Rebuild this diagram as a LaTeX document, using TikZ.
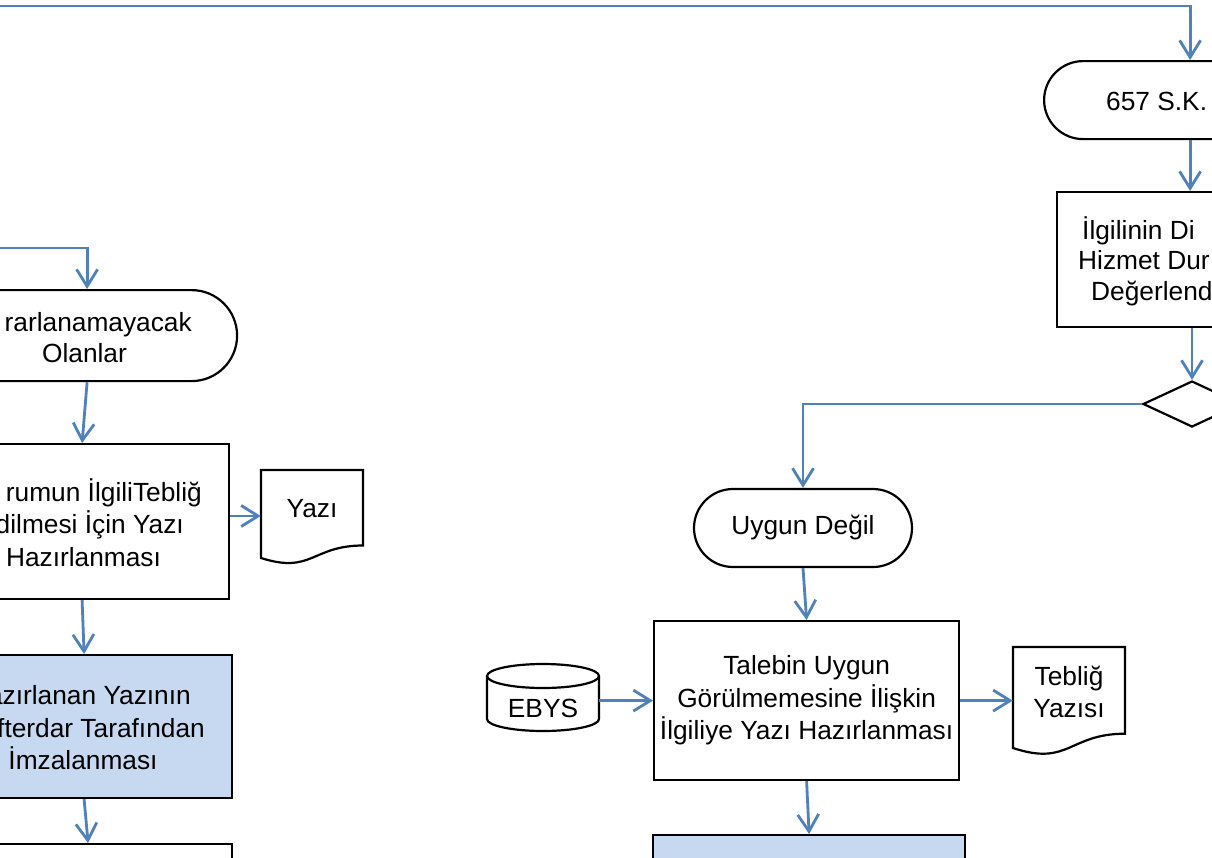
\documentclass[tikz,border=0pt]{standalone}
\usepackage{fontspec}
\setmainfont{Liberation Sans}
\usetikzlibrary{arrows.meta,shapes.geometric}
\definecolor{flowblue}{RGB}{79,129,189}
\definecolor{fillblue}{RGB}{198,217,240}
\tikzset{
  conn/.style={draw=flowblue,line width=2.8pt,-{Straight Barb[length=17pt,width=21pt]}},
  shp/.style={draw=black,line width=2.2pt},
  procbox/.style={shp,rectangle,inner sep=0pt,anchor=north west},
  term/.style={shp,rectangle,inner sep=0pt},
  txt/.style={font=\fontsize{26.3}{32.5}\selectfont,inner sep=0pt},
}
\begin{document}
\begin{tikzpicture}[x=1pt,y=-1pt]
\useasboundingbox (0,0) rectangle (1212,857);
\fill[white] (0,0) rectangle (1212,857);
\clip (0,0) rectangle (1212,857);

% ---------- right column ----------
\node[term,rounded corners=39pt,minimum width=292pt,minimum height=78pt,anchor=north west] (t657) at (1043,60) {};
\node[txt,anchor=base west] (t657txt) at (1106,110) {657 S.K.};

\node[procbox,minimum width=266pt,minimum height=135pt] (degerl) at (1056,191) {};
\node[txt,anchor=base west] (dg1) at (1082,239) {İlgilinin Di};
\node[txt,anchor=base west] (dg2) at (1078,269) {Hizmet Dur};
\node[txt,anchor=base west] (dg3) at (1091,300) {Değerlend};

\node[shp,diamond,inner sep=0pt,minimum width=98pt,minimum height=46pt] (karar) at (1192,404) {};

\node[term,rounded corners=39pt,minimum width=218pt,minimum height=78pt,txt] (uygun) at (803,528) {Uygun Değil};

\node[procbox,minimum width=305pt,minimum height=159pt,align=center,font=\fontsize{26.3}{32.5}\selectfont] (talebin) at (653,620) {Talebin Uygun\\Görülmemesine İlişkin\\İlgiliye Yazı Hazırlanması};

\node[procbox,fill=fillblue,minimum width=312pt,minimum height=100pt] (onay) at (652,834) {};

% EBYS cylinder
\draw[shp,fill=white] (487,676) -- (487,719) arc[start angle=180,end angle=0,x radius=56,y radius=12] -- (599,676);
\draw[shp] (543,676) ellipse [x radius=56,y radius=12];
\node[txt,minimum width=112pt] (ebys) at (543,708) {EBYS};

% Tebliğ Yazısı document
\draw[shp] (1013,647) -- (1125,647) -- (1125,733.7) .. controls (1069,733.7) and (1069,766.6) .. (1013,748) -- cycle;
\node[txt,align=center,minimum width=112pt,font=\fontsize{26.3}{32.5}\selectfont] (teblig) at (1069,692) {Tebliğ\\Yazısı};

% ---------- left column ----------
\node[term,rounded corners=45.5pt,minimum width=300pt,minimum height=91pt,anchor=north west] (yterm) at (-64,289) {};
\node[txt,anchor=base east] (yt1) at (192,331) {rarlanamayacak};
\node[txt,anchor=base] (yt2) at (84.5,362) {Olanlar};

\node[procbox,minimum width=294pt,minimum height=155pt] (lbox) at (-66,443) {};
\node[txt,anchor=base east] (lb1) at (202,501) {rumun İlgiliTebliğ};
\node[txt,anchor=base east] (lb2) at (184,533) {dilmesi İçin Yazı};
\node[txt,anchor=base] (lb3) at (83.5,566) {Hazırlanması};

% Yazı document
\draw[shp] (261,470) -- (363,470) -- (363,545.5) .. controls (312,545.5) and (312,574.3) .. (261,558) -- cycle;
\node[txt,minimum width=102pt] (yazi) at (312,508.5) {Yazı};

\node[procbox,fill=fillblue,minimum width=296pt,minimum height=143pt] (lblue) at (-65,654) {};
\node[txt,anchor=base east] (lu1) at (191,704) {azırlanan Yazının};
\node[txt,anchor=base east] (lu2) at (205,737) {fterdar Tarafından};
\node[txt,anchor=base] (lu3) at (83,769) {İmzalanması};

\node[procbox,minimum width=288pt,minimum height=100pt] (lbottom) at (-57,843) {};

% ---------- connectors ----------
\coordinate (topin) at (-5,6);
\draw[conn] (topin) -| (t657.north);
\draw[conn] (t657.south) -- (degerl.north);
\draw[conn] (degerl.south -| karar.north) -- (karar.north);
\draw[conn] (karar.west) -| (uygun.north);
\draw[conn] (uygun.south) -- (talebin.north);
\draw[conn] (talebin.south) -- (onay.north);
\draw[conn] (ebys.east |- talebin.west) -- (talebin.west);
\draw[conn] (talebin.east) -- (talebin.east -| teblig.west);

\coordinate (leftin) at (-5,248);
\draw[conn] (leftin) -| (yterm.north);
\draw[conn] (yterm.south) -- (lbox.north);
\draw[conn] (lbox.east |- 0,516) -- (yazi.west |- 0,516);
\draw[conn] (lbox.south) -- (lblue.north);
\draw[conn] (lblue.south) -- (lbottom.north);
\end{tikzpicture}
\end{document}
